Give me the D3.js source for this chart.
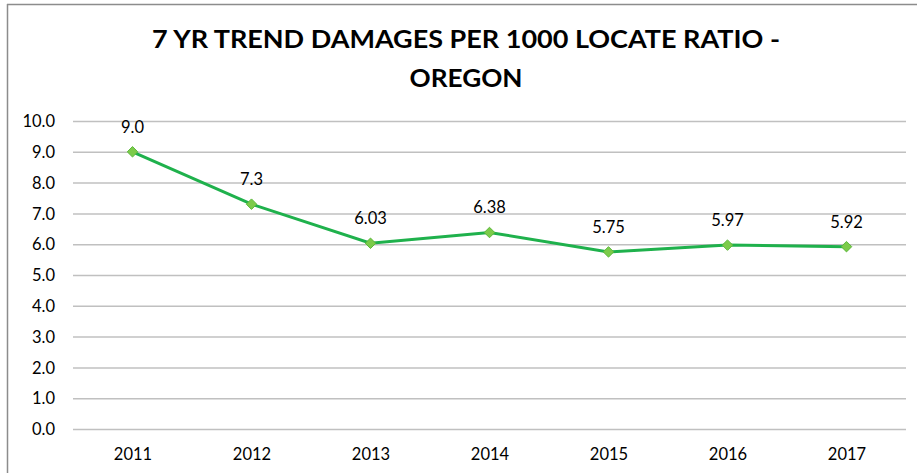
<!DOCTYPE html>
<html>
<head>
<meta charset="utf-8">
<script src="https://cdn.jsdelivr.net/npm/d3@7"></script>
<style>
  body { margin: 0; background: #fff; }
  text { font-family: Lato, "Liberation Sans", sans-serif; fill: #000; }
</style>
</head>
<body>
<div id="chart"></div>
<script>
// chart data
const years = ["2011", "2012", "2013", "2014", "2015", "2016", "2017"];
const ratios = [9.0, 7.3, 6.03, 6.38, 5.75, 5.97, 5.92];
const ratioLabels = ["9.0", "7.3", "6.03", "6.38", "5.75", "5.97", "5.92"];
const yTicks = [0, 1, 2, 3, 4, 5, 6, 7, 8, 9, 10];
const titleLines = ["7 YR TREND DAMAGES PER 1000 LOCATE RATIO -", "OREGON"];

let width = 917, height = 473;
let margin = { top: 121, bottom: 44, left: 73, right: 11 };

let svg = d3.select("#chart").append("svg")
  .attr("width", width)
  .attr("height", height);

// outer frame (only top and left edges visible)
svg.append("line").attr("x1", 7).attr("x2", width).attr("y1", 4.5).attr("y2", 4.5)
  .attr("stroke", "#8c8c8c").attr("stroke-width", 1.5);
svg.append("line").attr("x1", 7.5).attr("x2", 7.5).attr("y1", 4).attr("y2", height)
  .attr("stroke", "#8c8c8c").attr("stroke-width", 1.5);

// title
svg.selectAll(".title")
  .data(titleLines)
  .enter()
  .append("text")
    .attr("class", "title")
    .attr("x", 466)
    .attr("y", (d, i) => 48 + i * 39)
    .attr("text-anchor", "middle")
    .style("font-size", "25px")
    .style("font-weight", "bold")
    .attr("textLength", (d, i) => i === 0 ? 628 : 113)
    .attr("lengthAdjust", "spacingAndGlyphs")
    .text(d => d);

let xScale = d3.scalePoint()
  .domain(years)
  .range([margin.left, width - margin.right])
  .padding(0.5);

let yScale = d3.scaleLinear()
  .domain([0, 10])
  .range([height - margin.bottom, margin.top]);

// gridlines
let yAxis = d3.axisLeft(yScale)
  .tickValues(yTicks)
  .tickSize(-(width - margin.right - margin.left))
  .tickPadding(18)
  .tickFormat(d3.format(".1f"));

let gy = svg.append("g")
  .attr("class", "y-axis")
  .attr("transform", `translate(${margin.left},0)`)
  .call(yAxis);
gy.select(".domain").remove();
gy.selectAll(".tick line").attr("stroke", "#c0c0c0").attr("stroke-width", 1.5);
gy.selectAll(".tick text").style("font-size", "16.5px").attr("dy", "0.34em");

let xAxis = d3.axisBottom(xScale).tickSize(0).tickPadding(19);
let gx = svg.append("g")
  .attr("class", "x-axis")
  .attr("transform", `translate(0,${height - margin.bottom})`)
  .call(xAxis);
gx.select(".domain").remove();
gx.selectAll(".tick text").style("font-size", "16.5px");

let points = years.map((y, i) => ({ year: y, value: ratios[i], label: ratioLabels[i] }));

let line = d3.line()
  .x(d => xScale(d.year))
  .y(d => yScale(d.value));

svg.append("path")
  .datum(points)
  .attr("d", line)
  .attr("fill", "none")
  .attr("stroke", "#1fb14c")
  .attr("stroke-width", 3);

svg.selectAll(".marker")
  .data(points)
  .enter()
  .append("path")
    .attr("class", "marker")
    .attr("d", d3.symbol().type(d3.symbolDiamond2).size(70))
    .attr("transform", d => `translate(${xScale(d.year)},${yScale(d.value)})`)
    .attr("fill", "#7ccb4a")
    .attr("stroke", "#5cb83c")
    .attr("stroke-width", 1);

svg.selectAll(".dlabel")
  .data(points)
  .enter()
  .append("text")
    .attr("class", "dlabel")
    .attr("x", d => xScale(d.year))
    .attr("y", d => yScale(d.value) - 19)
    .attr("text-anchor", "middle")
    .style("font-size", "16.5px")
    .text(d => d.label);
</script>
</body>
</html>
